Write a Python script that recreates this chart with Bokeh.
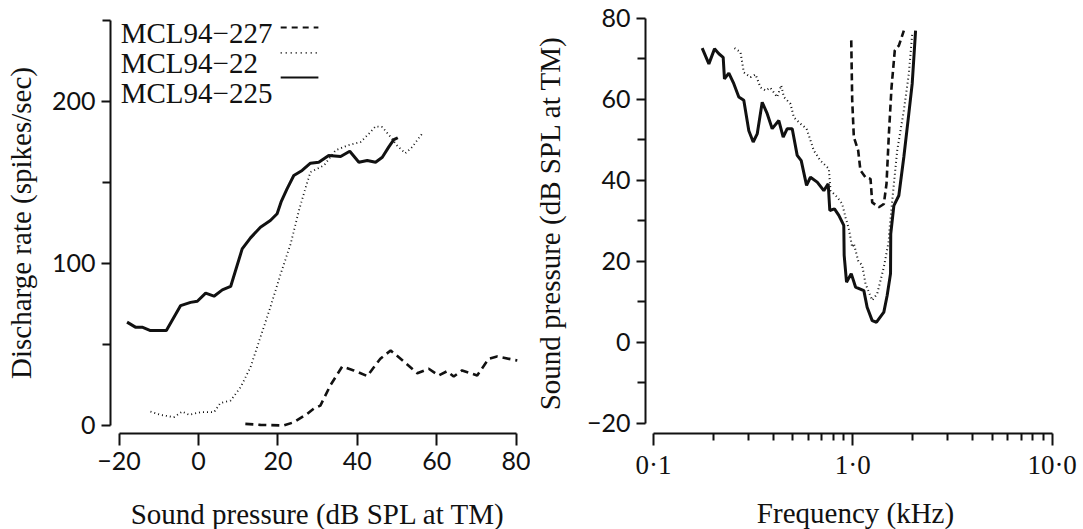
from bokeh.plotting import figure
from bokeh.layouts import row
from bokeh.models import (Range1d, FixedTicker, CustomJSTickFormatter, LinearAxis, LogAxis, LogScale)
from bokeh.core.properties import value
from bokeh.embed import file_html
from bokeh.resources import INLINE

# ---------------- data: left panel (rate-level functions) ----------------
rl225_x = [-18.0, -15.9, -14.2, -12.1, -8.1, -4.5, -2.0, -0.3, 1.8, 3.9, 6.0, 8.1, 11.0, 13.1,
           15.6, 18.1, 19.8, 20.8, 22.3, 24.0, 26.1, 28.2, 30.3, 32.8, 35.8, 38.1, 40.4, 42.5,
           44.6, 46.3, 47.9, 49.2, 50.2]
rl225_y = [63.8, 60.7, 60.7, 58.6, 58.6, 74.0, 76.0, 76.7, 81.7, 79.8, 83.7, 85.8, 109.0, 115.8,
           122.4, 126.5, 130.7, 138.0, 146.0, 154.3, 157.4, 161.9, 162.5, 166.7, 166.0, 169.3,
           162.5, 163.6, 162.5, 165.6, 171.8, 176.4, 177.6]

rl22_x = [-12.1, -9.6, -6.2, -4.1, -2.4, 0.5, 3.9, 5.5, 8.1, 10.6, 13.1, 15.6, 18.1, 20.7, 23.2,
          25.3, 27.0, 28.2, 31.6, 34.5, 37.5, 40.8, 42.9, 44.6, 46.3, 48.4, 50.0, 52.1, 53.8, 56.3]
rl22_y = [8.6, 6.6, 5.1, 8.6, 6.6, 8.2, 8.2, 13.8, 15.4, 23.6, 36.0, 54.5, 73.0, 93.6, 112.0,
          132.7, 147.0, 156.4, 160.5, 169.8, 172.8, 174.9, 180.0, 184.6, 184.2, 178.0, 172.8,
          168.0, 171.8, 180.0]

rl227_x = [11.8, 15.6, 21.5, 24.0, 27.4, 29.0, 30.7, 33.2, 36.2, 39.1, 42.5, 45.8, 48.4, 50.9,
           55.1, 58.0, 60.5, 62.6, 64.3, 66.4, 70.2, 73.1, 75.2, 80.3]
rl227_y = [1.0, 0.4, 0.0, 2.0, 7.2, 10.3, 12.3, 24.7, 36.4, 34.0, 30.5, 41.2, 46.3, 41.2,
           32.3, 35.0, 30.9, 33.5, 30.2, 34.0, 30.9, 41.2, 42.6, 40.1]

# ---------------- data: right panel (tuning curves) ----------------
tc225_f = [0.1755, 0.1896, 0.2024, 0.2128, 0.2237, 0.2270, 0.2388, 0.2529, 0.2679, 0.2838,
           0.3008, 0.3164, 0.3314, 0.3511, 0.3720, 0.394, 0.4254, 0.4474, 0.4688, 0.4966,
           0.526, 0.551, 0.586, 0.613, 0.6628, 0.7154, 0.7525, 0.7665, 0.809, 0.851, 0.901,
           0.905, 0.930, 0.982, 1.032, 1.136, 1.180, 1.251, 1.315, 1.431, 1.487, 1.546, 1.550,
           1.607, 1.702, 1.803, 1.910, 1.986, 2.065]
tc225_db = [72.7, 68.8, 72.5, 71.3, 70.4, 65.1, 66.5, 63.9, 60.6, 59.8,
            52.3, 49.5, 51.5, 59.3, 56.5, 52.8, 54.8, 50.7, 52.8, 52.8,
            46.2, 44.9, 38.8, 40.8, 39.6, 37.5, 39.2, 32.6, 33.0, 31.4, 28.9,
            21.5, 14.9, 17.0, 13.7, 12.8, 8.7, 5.4, 5.0, 7.5, 11.6, 17.0, 26.8,
            33.8, 36.3, 45.8, 56.5, 63.9, 77.0]

tc22_f = [0.2549, 0.2732, 0.2838, 0.3067, 0.325, 0.344, 0.365, 0.386, 0.4176, 0.437, 0.451,
          0.487, 0.506, 0.547, 0.586, 0.602, 0.637, 0.688, 0.758, 0.773, 0.835, 0.885, 0.919,
          0.955, 0.993, 1.012, 1.064, 1.115, 1.158, 1.251, 1.325, 1.431, 1.517, 1.520, 1.577,
          1.670, 1.803, 1.910, 1.986]
tc22_db = [72.7, 71.7, 66.7, 65.5, 66.2, 63.0, 62.2, 62.9, 60.6, 63.5, 60.6,
           58.9, 55.6, 54.0, 52.8, 51.1, 47.4, 44.9, 42.9, 37.5, 35.9, 34.2, 30.9,
           28.1, 23.5, 24.4, 20.2, 19.0, 14.5, 10.4, 12.0, 18.6, 25.2, 26.8, 35.0,
           47.4, 57.3, 66.3, 76.2]

tc227_f = [0.982, 0.993, 1.012, 1.064, 1.092, 1.158, 1.227, 1.251, 1.351, 1.431, 1.476, 1.517,
           1.564, 1.624, 1.702, 1.803]
tc227_db = [74.6, 59.8, 50.7, 47.4, 42.5, 40.8, 40.4, 34.6, 33.4, 34.2, 39.2, 51.5,
            63.0, 72.1, 73.3, 77.0]

legend_labels = ["MCL94\u2212227", "MCL94\u221222", "MCL94\u2212225"]
rate_major_ticks = [0, 100, 200]
rate_minor_ticks = [50, 150, 250]
spl_ticks = [-20, 0, 20, 40, 60, 80]
db_major_ticks = [-20, 0, 20, 40, 60, 80]
db_minor_ticks = [-10, 10, 30, 50, 70]
freq_major_ticks = [0.1, 1.0, 10.0]
freq_minor_ticks = [0.2, 0.3, 0.4, 0.5, 0.6, 0.7, 0.8, 0.9, 2, 3, 4, 5, 6, 7, 8, 9]
freq_tick_labels = ["0\u00b71", "1\u00b70", "10\u00b70"]

# ---------------- styling ----------------
SERIF = "Liberation Serif"
SANS = "Lato"
TICK_FS = "25px"
FREQ_TICK_FS = "27px"
LABEL_FS = "29px"
LEGEND_FS = "29px"
BLACK = "#111111"

minus_fmt = CustomJSTickFormatter(code="return tick < 0 ? '\u2212' + Math.abs(tick) : String(tick);")


def style_axis(ax, out_len, minor_out, tick_font=SANS, tick_fs=TICK_FS):
    ax.axis_line_width = 2
    ax.axis_line_color = BLACK
    ax.major_tick_line_width = 2
    ax.minor_tick_line_width = 2
    ax.major_tick_line_color = BLACK
    ax.minor_tick_line_color = BLACK
    ax.major_tick_in = 0
    ax.major_tick_out = out_len
    ax.minor_tick_in = 0
    ax.minor_tick_out = minor_out
    ax.major_label_text_font = tick_font
    ax.major_label_text_font_size = tick_fs
    ax.major_label_text_color = BLACK
    ax.axis_label_text_font = SERIF
    ax.axis_label_text_font_size = LABEL_FS
    ax.axis_label_text_font_style = "normal"
    ax.axis_label_text_color = BLACK


# ---------------- left panel ----------------
p1 = figure(frame_width=415, frame_height=421, output_backend="svg", toolbar_location=None,
            x_range=Range1d(-22.17, 82.37), y_range=Range1d(-4.94, 254.9),
            x_axis_type=None, y_axis_type=None,
            min_border_left=110, min_border_right=5, min_border_top=12, min_border_bottom=96)
p1.outline_line_color = None
p1.grid.visible = False

xa1 = LinearAxis(ticker=FixedTicker(ticks=spl_ticks), formatter=minus_fmt, bounds=(-20, 80),
                 axis_label="Sound pressure (dB SPL at TM)")
style_axis(xa1, 12, 0)
xa1.major_label_standoff = 6
xa1.axis_label_standoff = 25
p1.add_layout(xa1, "below")

ya1 = LinearAxis(ticker=FixedTicker(ticks=rate_major_ticks, minor_ticks=rate_minor_ticks),
                 bounds=(0, 250), axis_label="Discharge rate (spikes/sec)")
style_axis(ya1, 9, 8)
ya1.major_label_standoff = 6
ya1.axis_label_standoff = 12
p1.add_layout(ya1, "left")

p1.line(rl225_x, rl225_y, line_color=BLACK, line_width=3)
p1.line(rl22_x, rl22_y, line_color=BLACK, line_width=1.8, line_dash="1 3")
p1.line(rl227_x, rl227_y, line_color=BLACK, line_width=2.6, line_dash="8 5")

# legend (text left, line sample right)
leg_text_x = -19.6
leg_base_y = [242.0, 223.5, 205.0]
leg_line_y = [245.7, 230.0, 214.8]
leg_line_x0, leg_line_x1 = 20.7, 30.2
p1.text(x=[leg_text_x] * 3, y=leg_base_y, text=legend_labels, text_font=value(SERIF),
        text_font_size=value(LEGEND_FS), text_baseline="alphabetic", text_align="left",
        text_color=BLACK)
p1.segment(x0=[leg_line_x0], y0=[leg_line_y[0]], x1=[leg_line_x1], y1=[leg_line_y[0]],
           line_color=BLACK, line_width=2, line_dash="6 5")
p1.segment(x0=[leg_line_x0], y0=[leg_line_y[1]], x1=[leg_line_x1], y1=[leg_line_y[1]],
           line_color=BLACK, line_width=1.8, line_dash="1 4")
p1.segment(x0=[leg_line_x0], y0=[leg_line_y[2]], x1=[leg_line_x1], y1=[leg_line_y[2]],
           line_color=BLACK, line_width=2)

# ---------------- right panel ----------------
p2 = figure(frame_width=420, frame_height=421, output_backend="svg", toolbar_location=None,
            x_range=Range1d(0.09118, 11.67), y_range=Range1d(-22.47, 81.48),
            x_axis_type=None, y_axis_type=None,
            min_border_left=115, min_border_right=18, min_border_top=12, min_border_bottom=96)
p2.outline_line_color = None
p2.grid.visible = False
p2.x_scale = LogScale()

xa2 = LogAxis(ticker=FixedTicker(ticks=freq_major_ticks, minor_ticks=freq_minor_ticks),
              formatter=CustomJSTickFormatter(args=dict(labels=freq_tick_labels),
                                              code="return labels[Math.round(Math.log10(tick)) + 1];"),
              bounds=(0.1, 10), axis_label="Frequency (kHz)")
style_axis(xa2, 12, 7, tick_font=SERIF, tick_fs=FREQ_TICK_FS)
xa2.major_label_standoff = 4
xa2.axis_label_standoff = 14
p2.add_layout(xa2, "below")

ya2 = LinearAxis(ticker=FixedTicker(ticks=db_major_ticks, minor_ticks=db_minor_ticks),
                 formatter=minus_fmt, bounds=(-20, 80),
                 axis_label="Sound pressure (dB SPL at TM)")
style_axis(ya2, 9, 8)
ya2.major_label_standoff = 6
ya2.axis_label_standoff = 18
p2.add_layout(ya2, "left")

p2.line(tc225_f, tc225_db, line_color=BLACK, line_width=3)
p2.line(tc22_f, tc22_db, line_color=BLACK, line_width=2, line_dash="1 3")
p2.line(tc227_f, tc227_db, line_color=BLACK, line_width=2.6, line_dash="7 4")

layout = row(p1, p2)
open("out.html", "w").write(file_html(layout, INLINE))
